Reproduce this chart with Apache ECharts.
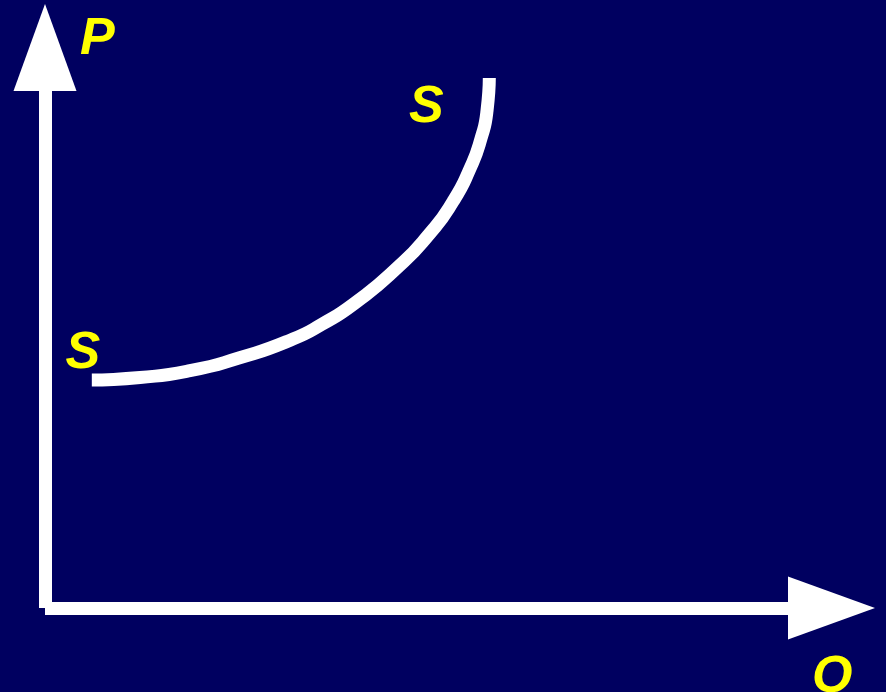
<!DOCTYPE html>
<html>
<head>
<meta charset="utf-8">
<script src="https://cdn.jsdelivr.net/npm/echarts@6/dist/echarts.min.js"></script>
<style>
  html, body { margin: 0; padding: 0; background: #000060; }
  #chart { width: 886px; height: 692px; }
</style>
</head>
<body>
<div id="chart"></div>
<script>
// Supply curve S–S (quantity Q vs price P, arbitrary units, axes 0..10)
const quantity = [0.63, 1.28, 1.95, 2.62, 3.30, 3.73, 4.19, 4.74, 5.17, 5.49, 5.72, 5.87, 5.95, 5.98];
const price    = [4.41, 4.46, 4.59, 4.84, 5.18, 5.49, 5.92, 6.58, 7.23, 7.86, 8.50, 9.09, 9.63, 10.25];
const curveLabel = 'S';
const xName = 'Q';
const yName = 'P';

const YELLOW = '#ffff00';
const FONT = '"Liberation Sans", Arial, sans-serif';
const labelFont = { fontSize: 52, fontWeight: 'bold', fontStyle: 'italic', fontFamily: FONT, color: YELLOW };

const last = quantity.length - 1;
const curveData = quantity.map((q, i) => {
  const item = { value: [q, price[i]] };
  if (i === 0) {
    item.label = Object.assign({ show: true, position: 'inside', offset: [-9, -26], formatter: curveLabel }, labelFont);
  } else if (i === last) {
    item.label = Object.assign({ show: true, position: 'inside', offset: [-63, 30], formatter: curveLabel }, labelFont);
  }
  return item;
});

const axisLine = {
  show: true,
  lineStyle: { color: '#ffffff', width: 13, cap: 'butt' },
  symbol: ['none', 'triangle'],
  symbolSize: [63, 87],
  symbolOffset: [0, 43.5]
};

const chart = echarts.init(document.getElementById('chart'), null, { renderer: 'canvas' });
chart.setOption({
  backgroundColor: '#000060',
  animation: false,
  grid: { left: 45, top: 91, right: 98, bottom: 84, containLabel: false, outerBoundsMode: 'none' },
  xAxis: {
    type: 'value', min: 0, max: 10,
    name: xName, nameLocation: 'end', nameGap: 24,
    nameTextStyle: Object.assign({ verticalAlign: 'top', align: 'left', padding: [44, 0, 0, 0] }, labelFont),
    axisLine: axisLine,
    axisTick: { show: false }, axisLabel: { show: false }, splitLine: { show: false }
  },
  yAxis: {
    type: 'value', min: 0, max: 10,
    name: yName, nameLocation: 'end', nameGap: 51,
    nameTextStyle: Object.assign({ verticalAlign: 'middle', align: 'left', padding: [0, 0, 0, 35] }, labelFont),
    axisLine: axisLine,
    axisTick: { show: false }, axisLabel: { show: false }, splitLine: { show: false }
  },
  series: [{
    type: 'line',
    data: curveData,
    smooth: 0.6,
    clip: false,
    symbol: 'circle',
    symbolSize: 1,
    showSymbol: true,
    itemStyle: { color: 'rgba(0,0,0,0)', borderWidth: 0 },
    lineStyle: { color: '#ffffff', width: 13, cap: 'butt' },
    label: { show: false },
    emphasis: { disabled: true },
    z: 3
  }]
});
</script>
</body>
</html>
